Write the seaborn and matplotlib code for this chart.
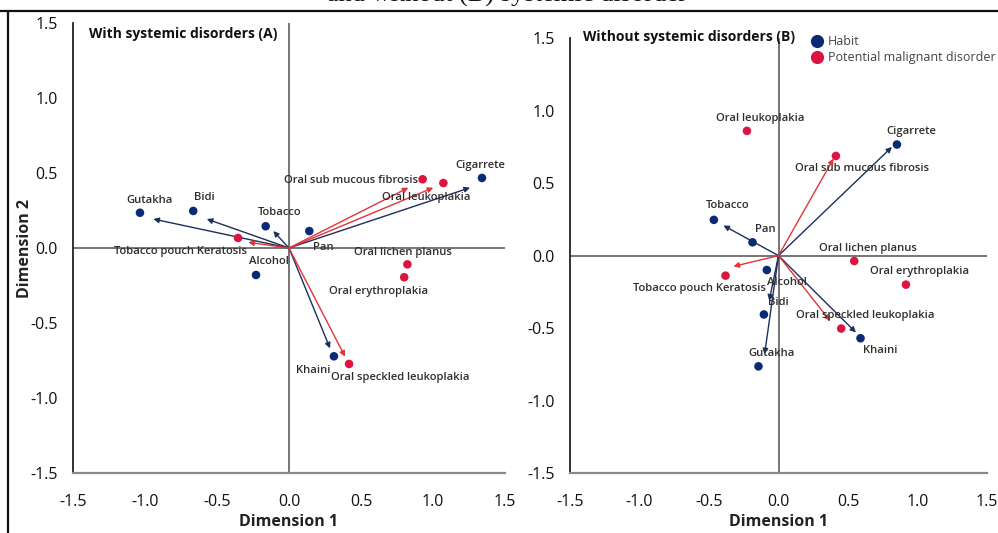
import matplotlib
matplotlib.use("Agg")
import matplotlib.pyplot as plt
from matplotlib.lines import Line2D
import seaborn as sns
import pandas as pd

# ---------------- data ----------------
types = ["Habit", "Potential malignant disorder"]

# Panel A: with systemic disorders
a_labels = ["Gutakha", "Bidi", "Tobacco", "Pan", "Alcohol", "Cigarrete", "Khaini",
            "Tobacco pouch Keratosis", "Oral sub mucous fibrosis", "Oral leukoplakia",
            "Oral lichen planus", "Oral erythroplakia", "Oral speckled leukoplakia"]
a_x = [-1.035, -0.665, -0.162, 0.141, -0.229, 1.340, 0.312,
       -0.354, 0.928, 1.072, 0.822, 0.800, 0.417]
a_y = [0.235, 0.247, 0.145, 0.113, -0.180, 0.467, -0.722,
       0.067, 0.458, 0.433, -0.109, -0.195, -0.773]
a_type = ["Habit"] * 7 + ["Potential malignant disorder"] * 6

a_arrow_labels = ["Gutakha", "Bidi", "Tobacco", "Cigarrete", "Khaini",
                  "Tobacco pouch Keratosis", "Oral sub mucous fibrosis",
                  "Oral leukoplakia", "Oral speckled leukoplakia"]
a_arrow_x = [-0.942, -0.571, -0.109, 1.257, 0.285, -0.283, 0.829, 1.002, 0.389]
a_arrow_y = [0.193, 0.193, 0.113, 0.402, -0.669, 0.038, 0.402, 0.402, -0.724]
a_arrow_type = ["Habit"] * 5 + ["Potential malignant disorder"] * 4

# Panel B: without systemic disorders
b_labels = ["Cigarrete", "Tobacco", "Pan", "Alcohol", "Bidi", "Khaini", "Gutakha",
            "Oral leukoplakia", "Oral sub mucous fibrosis", "Oral lichen planus",
            "Tobacco pouch Keratosis", "Oral erythroplakia", "Oral speckled leukoplakia"]
b_x = [0.852, -0.465, -0.187, -0.084, -0.105, 0.590, -0.144,
       -0.227, 0.413, 0.545, -0.381, 0.917, 0.451]
b_y = [0.767, 0.247, 0.092, -0.099, -0.406, -0.570, -0.764,
       0.861, 0.688, -0.037, -0.138, -0.200, -0.503]
b_type = ["Habit"] * 7 + ["Potential malignant disorder"] * 6

b_arrow_labels = ["Tobacco", "Cigarrete", "Bidi", "Gutakha", "Khaini",
                  "Oral sub mucous fibrosis", "Tobacco pouch Keratosis",
                  "Oral speckled leukoplakia"]
b_arrow_x = [-0.396, 0.816, -0.067, -0.100, 0.557, 0.396, -0.324, 0.372]
b_arrow_y = [0.208, 0.750, -0.310, -0.680, -0.530, 0.670, -0.074, -0.450]
b_arrow_type = ["Habit"] * 5 + ["Potential malignant disorder"] * 3

ticks = [-1.5, -1.0, -0.5, 0.0, 0.5, 1.0, 1.5]
tick_labels = ["-1.5", "-1.0", "-0.5", "0.0", "0.5", "1.0", "1.5"]

# ---------------- style ----------------
point_colors = {"Habit": "#0b2a74", "Potential malignant disorder": "#dc1440"}
arrow_colors = {"Habit": "#1d2f5f", "Potential malignant disorder": "#e3343a"}

# label offsets in pixels (dx, dy up-positive) relative to the point, centre-anchored
a_offsets = {
    "Gutakha": (10, 12), "Bidi": (11, 13), "Tobacco": (14, 14), "Pan": (14, -16),
    "Alcohol": (13, 13), "Cigarrete": (-2, 12), "Khaini": (-21, -14),
    "Tobacco pouch Keratosis": (-58, -14), "Oral sub mucous fibrosis": (-72, -1),
    "Oral leukoplakia": (-17, -14), "Oral lichen planus": (-4, 12),
    "Oral erythroplakia": (-26, -14), "Oral speckled leukoplakia": (51, -14),
}
b_offsets = {
    "Cigarrete": (14, 13), "Tobacco": (14, 14), "Pan": (13, 13), "Alcohol": (20, -13),
    "Bidi": (14, 12), "Khaini": (20, -12), "Gutakha": (13, 13),
    "Oral leukoplakia": (13, 12), "Oral sub mucous fibrosis": (26, -13),
    "Oral lichen planus": (14, 13), "Tobacco pouch Keratosis": (-26, -13),
    "Oral erythroplakia": (14, 13), "Oral speckled leukoplakia": (24, 13),
}

sns.set_style("white")
plt.rcParams["font.family"] = ["Open Sans", "DejaVu Sans"]

W, H = 998, 533
fig = plt.figure(figsize=(W / 100, H / 100), dpi=100)
fig.patch.set_facecolor("white")

# axes placement (pixel boxes)
axA = fig.add_axes([73 / W, 1 - 473 / H, 432 / W, 450 / H])
axB = fig.add_axes([570 / W, 1 - 473 / H, 417 / W, 434.7 / H])


def draw_panel(ax, labels, xs, ys, tps, ar_x, ar_y, ar_t, offsets, ylabel):
    df = pd.DataFrame({"x": xs, "y": ys, "type": tps, "label": labels})
    ax.set_xlim(-1.5, 1.5)
    ax.set_ylim(-1.5, 1.5)
    ax.axhline(0, color="#6a6a6a", lw=1.3, zorder=1)
    ax.axvline(0, color="#6a6a6a", lw=1.3, zorder=1)
    for tx, ty, tt in zip(ar_x, ar_y, ar_t):
        ax.annotate("", xy=(tx, ty), xytext=(0, 0),
                    arrowprops=dict(arrowstyle="-|>", color=arrow_colors[tt], lw=1.0,
                                    mutation_scale=8, shrinkA=0, shrinkB=0),
                    zorder=2)
    sns.scatterplot(data=df, x="x", y="y", hue="type", hue_order=types,
                    palette=point_colors, s=38, linewidth=0, legend=False,
                    ax=ax, zorder=3, clip_on=False)
    for _, r in df.iterrows():
        dx, dy = offsets[r["label"]]
        ax.annotate(r["label"], xy=(r["x"], r["y"]), xytext=(dx, dy),
                    textcoords="offset pixels", ha="center", va="center",
                    fontsize=8.1, fontweight="semibold", color="#2e2e2e", zorder=4)
    ax.set_xticks(ticks)
    ax.set_xticklabels(tick_labels)
    ax.set_yticks(ticks)
    ax.set_yticklabels(tick_labels)
    ax.tick_params(axis="both", labelsize=11.5, length=7, width=1.3, color="#333333",
                   labelcolor="#111111", direction="out")
    ax.tick_params(axis="x", pad=8)
    ax.tick_params(axis="y", pad=4)
    for side in ["top", "right"]:
        ax.spines[side].set_visible(False)
    ax.spines["left"].set_color("#222222")
    ax.spines["left"].set_linewidth(1.3)
    ax.spines["bottom"].set_color("#8a8a8a")
    ax.spines["bottom"].set_linewidth(1.6)
    ax.set_xlabel("Dimension 1", fontsize=11.5, fontweight="bold", color="#222222")
    ax.set_ylabel(ylabel, fontsize=11.5, fontweight="bold", color="#222222")
    return ax


draw_panel(axA, a_labels, a_x, a_y, a_type, a_arrow_x, a_arrow_y, a_arrow_type,
           a_offsets, "Dimension 2")
draw_panel(axB, b_labels, b_x, b_y, b_type, b_arrow_x, b_arrow_y, b_arrow_type,
           b_offsets, "")

# axis label placement
axA.xaxis.set_label_coords(0.5, (473 - 514) / 450)
axB.xaxis.set_label_coords(0.5, (473 - 514) / 434.7)
axA.yaxis.set_label_coords((33 - 73) / 432, 0.5)

# panel titles
fig.text(89 / W, 1 - 34 / H, "With systemic disorders (A)", fontsize=10,
         fontweight="bold", color="#111111", ha="left", va="center")
fig.text(583 / W, 1 - 37.3 / H, "Without systemic disorders (B)", fontsize=10,
         fontweight="bold", color="#111111", ha="left", va="center")

# legend
handles = [Line2D([], [], marker="o", linestyle="", markersize=9.5,
                  markerfacecolor=point_colors[t], markeredgewidth=0) for t in types]
fig.legend(handles, types, loc="upper left", bbox_to_anchor=(811 / W, 1 - 35 / H),
           frameon=False, fontsize=9, handlelength=1.0, handletextpad=0.35,
           labelspacing=0.25, borderpad=0, borderaxespad=0, labelcolor="#444444")

# cut-off caption at top and frame lines
fig.text(507 / W, 1 - 1.5 / H, "and without (B) systemic disorder",
         family="Liberation Serif", fontsize=19, ha="center", va="baseline",
         color="#111111")
fig.add_artist(Line2D([0, 1], [1 - 10.5 / H, 1 - 10.5 / H], transform=fig.transFigure,
                      color="#111111", lw=1.6))
fig.add_artist(Line2D([8 / W, 8 / W], [0, 1 - 10.5 / H], transform=fig.transFigure,
                      color="#111111", lw=1.6))

fig.savefig("out.png", dpi=100)
